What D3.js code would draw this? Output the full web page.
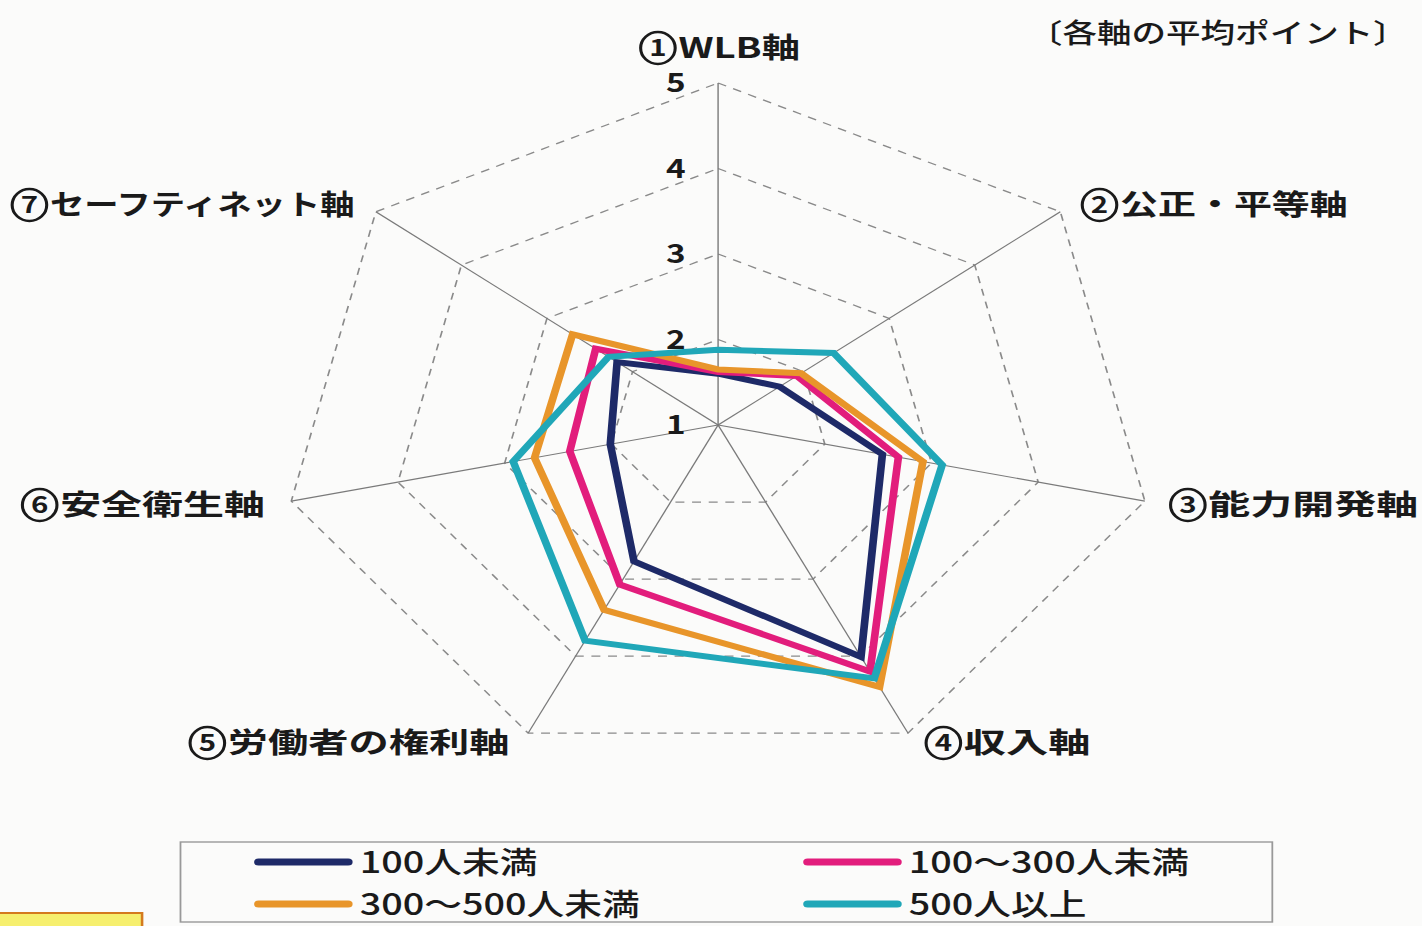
<!DOCTYPE html>
<html>
<head>
<meta charset="utf-8">
<script src="https://cdn.jsdelivr.net/npm/d3@7"></script>
<style>
  body { margin: 0; background: #fbfbfa; }
  text { font-family: "Noto Sans CJK JP", "Noto Sans", sans-serif; fill: #1a1a1a; }
</style>
</head>
<body>
<div id="plot"></div>
<script>
// axis names (clockwise from top); number drawn in a circle
var axisNums = ["1", "2", "3", "4", "5", "6", "7"];
var axes = ["WLB軸", "公正・平等軸", "能力開発軸", "収入軸", "労働者の権利軸", "安全衛生軸", "セーフティネット軸"];

var seriesNames = ["100人未満", "100～300人未満", "300～500人未満", "500人以上"];
var seriesColors = ["#1e2a68", "#e21d7c", "#e8952a", "#20a7b8"];

// average points per axis
var under100   = [1.60, 1.72, 2.54, 4.01, 2.77, 2.01, 2.18];
var from100    = [1.62, 1.92, 2.69, 4.20, 3.07, 2.39, 2.43];
var from300    = [1.65, 1.97, 2.92, 4.40, 3.40, 2.72, 2.70];
var over500    = [1.88, 2.35, 3.10, 4.29, 3.80, 2.92, 2.28];
var seriesValues = [under100, from100, from300, over500];

var ticks = [1, 2, 3, 4, 5];

var width = 1422, height = 926;
var sx = 1.28;            // the picture is stretched horizontally
var cx = 561, cy = 425;   // centre, in unstretched units

var svg = d3.select("#plot").append("svg")
  .attr("width", width)
  .attr("height", height);

var g = svg.append("g").attr("transform", "scale(" + sx + ",1)");

var r = d3.scaleLinear().domain([1, 5]).range([0, 342]);
var angle = function (i) { return i * 2 * Math.PI / axes.length; };

function point(i, v) {
  return [cx + r(v) * Math.sin(angle(i)), cy - r(v) * Math.cos(angle(i))];
}

// dashed rings
ticks.filter(function (t) { return t > 1; }).forEach(function (t) {
  g.append("path")
    .attr("d", d3.line()(axes.map(function (a, i) { return point(i, t); })) + "Z")
    .style("fill", "none")
    .style("stroke", "#8a8a8a")
    .style("stroke-width", 1.3)
    .style("stroke-dasharray", "7,6");
});

// spokes
axes.forEach(function (a, i) {
  var p = point(i, 5);
  g.append("line")
    .attr("x1", cx).attr("y1", cy)
    .attr("x2", p[0]).attr("y2", p[1])
    .style("stroke", "#7a7a7a")
    .style("stroke-width", 1.1);
});

// tick labels
g.selectAll("text.tick")
  .data(ticks)
  .enter().append("text")
  .attr("class", "tick")
  .attr("x", cx - 33)
  .attr("y", function (d) { return cy - r(d); })
  .attr("dy", "0.36em")
  .attr("text-anchor", "middle")
  .style("font-size", "26px")
  .style("font-weight", 700)
  .text(function (d) { return d; });

// series
var line = d3.line();
seriesValues.forEach(function (vals, s) {
  g.append("path")
    .attr("d", line(vals.map(function (v, i) { return point(i, v); })) + "Z")
    .style("fill", "none")
    .style("stroke", seriesColors[s])
    .style("stroke-width", 6)
    .style("stroke-linejoin", "miter");
});

// axis labels
var labelPos = [
  { x: 500, y: 58, w: 125 },
  { x: 845, y: 215, w: 208 },
  { x: 914, y: 515, w: 194 },
  { x: 723, y: 753, w: 129 },
  { x: 148, y: 753, w: 250 },
  { x: 17,  y: 515, w: 190 },
  { x: 9,   y: 215, w: 268 }
];
axes.forEach(function (a, i) {
  var p = labelPos[i];
  g.append("ellipse")
    .attr("cx", p.x + 14).attr("cy", p.y - 10)
    .attr("rx", 13.5).attr("ry", 16)
    .style("fill", "none")
    .style("stroke", "#1a1a1a")
    .style("stroke-width", 2.4);
  g.append("text")
    .attr("x", p.x + 14)
    .attr("y", p.y - 10)
    .attr("dy", "0.36em")
    .attr("text-anchor", "middle")
    .style("font-size", "23px")
    .style("font-weight", 700)
    .text(axisNums[i]);
  g.append("text")
    .attr("x", p.x + 30)
    .attr("y", p.y)
    .attr("textLength", p.w - 30)
    .attr("lengthAdjust", "spacingAndGlyphs")
    .style("font-size", "28px")
    .style("font-weight", 700)
    .text(a);
});

// note top-right
g.append("text")
  .attr("x", 803)
  .attr("y", 43)
  .style("font-size", "27px")
  .style("font-weight", 500)
  .text("〔各軸の平均ポイント〕");

// legend
g.append("rect")
  .attr("x", 141).attr("y", 842)
  .attr("width", 853).attr("height", 80)
  .style("fill", "none")
  .style("stroke", "#999")
  .style("stroke-width", 1.4);

var legendX = [202, 631], legendY = [862, 904];
seriesNames.forEach(function (name, s) {
  var lx = legendX[s % 2], ly = legendY[Math.floor(s / 2)];
  g.append("line")
    .attr("x1", lx).attr("x2", lx + 70)
    .attr("y1", ly).attr("y2", ly)
    .style("stroke", seriesColors[s])
    .style("stroke-width", 7)
    .style("stroke-linecap", "round");
  g.append("text")
    .attr("x", lx + 79)
    .attr("y", ly)
    .attr("dy", "0.36em")
    .style("font-size", "29.5px")
    .style("font-weight", 500)
    .text(name);
});

// yellow box peeking in at the bottom-left
g.append("rect")
  .attr("x", -2).attr("y", 913)
  .attr("width", 113).attr("height", 20)
  .style("fill", "#f6ef6e")
  .style("stroke", "#d47a1e")
  .style("stroke-width", 2);
</script>
</body>
</html>
